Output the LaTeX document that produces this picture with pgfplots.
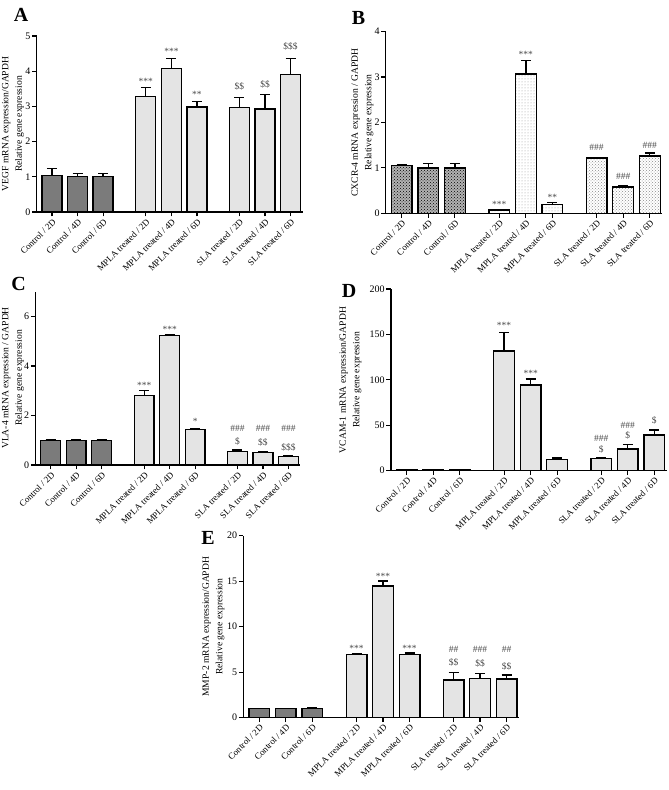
\documentclass[border=0pt]{standalone}
\usepackage{pgfplots}
\pgfplotsset{compat=1.18}
\usepackage{fontspec}
\setmainfont{Liberation Serif}
\usetikzlibrary{patterns}
\definecolor{ctrl}{HTML}{7B7B7B}
\definecolor{light}{HTML}{E4E4E4}
\definecolor{anncol}{HTML}{4A4A4A}

\pgfplotsset{
  panel/.style={
    scale only axis, anchor=south west, clip=false,
    axis lines=left, axis line style={-, line width=1.4pt},
    xmin=-0.6, xmax=9.8, ymin=0,
    xtick={0,1,2,3.67,4.67,5.67,7.33,8.33,9.33},
    xticklabels={Control / 2D,Control / 4D,Control / 6D,MPLA treated / 2D,MPLA treated / 4D,MPLA treated / 6D,SLA treated / 2D,SLA treated / 4D,SLA treated / 6D},
    tick align=outside, major tick length=4.5pt,
    tick style={black, line width=1.2pt},
    x tick label style={rotate=45, anchor=north east, font=\fontsize{9}{10}\selectfont, inner sep=1pt},
    y tick label style={font=\fontsize{10}{11}\selectfont, inner sep=1.5pt},
    /pgf/number format/assume math mode=true,
  },
  mybar/.style={ybar, bar shift=0pt, bar width=0.78, draw=black, line width=1.3pt,
    error bars/y dir=plus, error bars/y explicit,
    error bars/error bar style={line width=1.3pt, black},
    error bars/error mark options={rotate=90, mark size=5pt, line width=1.3pt, black}},
}
\tikzset{
  ann/.style={font=\fontsize{9.5}{10}\selectfont, text=anncol, inner sep=0pt, anchor=center},
  ylab/.style={rotate=90, align=center, font=\fontsize{9.6}{13.5}\selectfont, inner sep=0pt},
  plab/.style={font=\fontsize{20}{22}\selectfont\bfseries, inner sep=0pt},
}

\begin{document}
\begin{tikzpicture}
\useasboundingbox (0pt,0pt) rectangle (669pt,790pt);

% ---------- A ----------
\begin{axis}[panel, at={(36.6pt,578pt)}, width=266pt, height=176pt, ymax=5, ytick={0,1,2,3,4,5}]
\addplot[mybar, fill=ctrl] coordinates {(0,1.03) +- (0,0.21) (1,1.0) +- (0,0.1) (2,1.0) +- (0,0.1)};
\addplot[mybar, fill=light] coordinates {(3.67,3.28) +- (0,0.25) (4.67,4.07) +- (0,0.29) (5.67,2.98) +- (0,0.16)};
\addplot[mybar, fill=light] coordinates {(7.33,2.97) +- (0,0.28) (8.33,2.93) +- (0,0.40) (9.33,3.91) +- (0,0.46)};
\node[ann] at (axis cs:3.67,3.72) {***};
\node[ann] at (axis cs:4.67,4.57) {***};
\node[ann] at (axis cs:5.67,3.34) {**};
\node[ann] at (axis cs:7.33,3.56) {\$\$};
\node[ann] at (axis cs:8.33,3.63) {\$\$};
\node[ann] at (axis cs:9.33,4.70) {\$\$\$};
\end{axis}

% ---------- B ----------
\begin{axis}[panel, at={(385.7pt,576.7pt)}, width=276.6pt, height=181.6pt, ymax=4, ytick={0,1,2,3,4}]
\addplot[mybar, fill=gray!60, postaction={pattern=crosshatch dots, pattern color=black}] coordinates {(0,1.05) +- (0,0.02) (1,1.0) +- (0,0.1) (2,1.0) +- (0,0.1)};
\addplot[mybar, fill=white, postaction={pattern=dots, pattern color=gray!80}] coordinates {(3.67,0.07) +- (0,0.02) (4.67,3.07) +- (0,0.3) (5.67,0.2) +- (0,0.04)};
\addplot[mybar, fill=white, postaction={pattern=crosshatch dots, pattern color=gray!90}] coordinates {(7.33,1.22) +- (0,0.01) (8.33,0.58) +- (0,0.03) (9.33,1.26) +- (0,0.07)};
\node[ann] at (axis cs:3.67,0.20) {***};
\node[ann] at (axis cs:4.67,3.50) {***};
\node[ann] at (axis cs:5.67,0.35) {**};
\node[ann] at (axis cs:7.33,1.45) {\#\#\#};
\node[ann] at (axis cs:8.33,0.81) {\#\#\#};
\node[ann] at (axis cs:9.33,1.49) {\#\#\#};
\end{axis}

% ---------- C ----------
\begin{axis}[panel, at={(35.4pt,325pt)}, width=265pt, height=173.3pt, ymax=7, ytick={0,2,4,6}]
\addplot[mybar, fill=ctrl] coordinates {(0,1.0) +- (0,0.03) (1,1.0) +- (0,0.03) (2,1.0) +- (0,0.03)};
\addplot[mybar, fill=light] coordinates {(3.67,2.82) +- (0,0.18) (4.67,5.24) +- (0,0.02) (5.67,1.44) +- (0,0.03)};
\addplot[mybar, fill=light] coordinates {(7.33,0.54) +- (0,0.06) (8.33,0.51) +- (0,0.03) (9.33,0.34) +- (0,0.05)};
\node[ann] at (axis cs:3.67,3.2) {***};
\node[ann] at (axis cs:4.67,5.48) {***};
\node[ann] at (axis cs:5.67,1.75) {*};
\node[ann] at (axis cs:7.33,1.49) {\#\#\#};
\node[ann] at (axis cs:8.33,1.49) {\#\#\#};
\node[ann] at (axis cs:9.33,1.49) {\#\#\#};
\node[ann] at (axis cs:7.33,0.94) {\$};
\node[ann] at (axis cs:8.33,0.92) {\$\$};
\node[ann] at (axis cs:9.33,0.70) {\$\$\$};
\end{axis}

% ---------- D ----------
\begin{axis}[panel, at={(390.8pt,319.3pt)}, width=276pt, height=181.7pt, ymax=200, ytick={0,50,100,150,200}]
\addplot[mybar, fill=ctrl] coordinates {(0,1.0) +- (0,0.3) (1,1.0) +- (0,0.3) (2,1.0) +- (0,0.3)};
\addplot[mybar, fill=light] coordinates {(3.67,131.7) +- (0,20.1) (4.67,94.3) +- (0,6.6) (5.67,12.5) +- (0,1.4)};
\addplot[mybar, fill=light] coordinates {(7.33,13.6) +- (0,0.5) (8.33,23.9) +- (0,5.1) (9.33,39.3) +- (0,5.5)};
\node[ann] at (axis cs:3.67,160) {***};
\node[ann] at (axis cs:4.67,107) {***};
\node[ann] at (axis cs:7.33,35.6) {\#\#\#};
\node[ann] at (axis cs:7.33,23.5) {\$};
\node[ann] at (axis cs:8.33,50.3) {\#\#\#};
\node[ann] at (axis cs:8.33,38.5) {\$};
\node[ann] at (axis cs:9.33,55.8) {\$};
\end{axis}

% ---------- E ----------
\begin{axis}[panel, at={(243.4pt,72.3pt)}, width=275.6pt, height=182pt, ymax=20, ytick={0,5,10,15,20}]
\addplot[mybar, fill=ctrl] coordinates {(0,1.0) +- (0,0.02) (1,1.0) +- (0,0.02) (2,1.0) +- (0,0.08)};
\addplot[mybar, fill=light] coordinates {(3.67,6.97) +- (0,0.08) (4.67,14.47) +- (0,0.55) (5.67,6.97) +- (0,0.13)};
\addplot[mybar, fill=light] coordinates {(7.33,4.14) +- (0,0.85) (8.33,4.29) +- (0,0.59) (9.33,4.25) +- (0,0.45)};
\node[ann] at (axis cs:3.67,7.63) {***};
\node[ann] at (axis cs:4.67,15.57) {***};
\node[ann] at (axis cs:5.67,7.63) {***};
\node[ann] at (axis cs:7.33,7.5) {\#\#};
\node[ann] at (axis cs:8.33,7.5) {\#\#\#};
\node[ann] at (axis cs:9.33,7.5) {\#\#};
\node[ann] at (axis cs:7.33,6.05) {\$\$};
\node[ann] at (axis cs:8.33,6.0) {\$\$};
\node[ann] at (axis cs:9.33,5.68) {\$\$};
\end{axis}

% y labels
\node[ylab] at (13pt,666pt) {VEGF mRNA expression/GAPDH\\Relative gene expression};
\node[ylab] at (362.5pt,667.5pt) {CXCR-4 mRNA expression / GAPDH\\Relative gene expression};
\node[ylab] at (13pt,412pt) {VLA-4 mRNA expression / GAPDH\\Relative gene expression};
\node[ylab] at (350.5pt,410pt) {VCAM-1 mRNA expression/GAPDH\\Relative gene expression};
\node[ylab] at (213.5pt,163.3pt) {MMP-2 mRNA expression/GAPDH\\Relative gene expression};

% panel letters
\node[plab] at (21pt,775pt) {A};
\node[plab] at (358.5pt,772.5pt) {B};
\node[plab] at (18.5pt,506pt) {C};
\node[plab] at (349pt,499.5pt) {D};
\node[plab] at (208pt,252pt) {E};
\end{tikzpicture}
\end{document}
